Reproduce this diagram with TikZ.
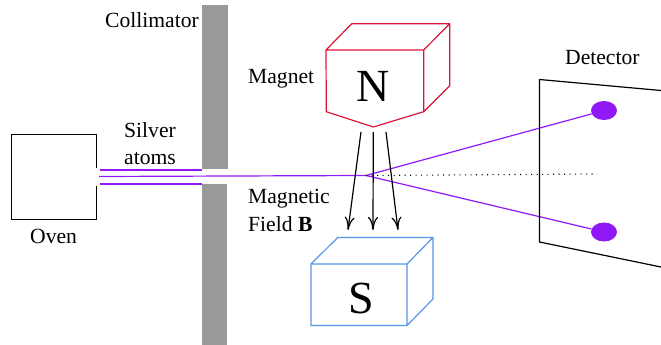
\documentclass[tikz,border=0pt]{standalone}
\usepackage{fontspec}
\setmainfont{Liberation Serif}
\definecolor{beam}{RGB}{145,25,245}
\definecolor{magred}{RGB}{220,20,60}
\definecolor{magblue}{RGB}{85,150,230}
\tikzset{
  lbl/.style={anchor=base west,inner sep=0pt,font=\fontsize{21.6}{24}\selectfont},
  pole/.style={inner sep=0pt,font=\fontsize{46}{48}\selectfont},
  beamline/.style={draw=beam,line width=1.2pt},
  fieldarrow/.style={draw=black,line width=1.2pt,-{To[length=13pt,width=10pt]}},
  spot/.style={ellipse,fill=beam,minimum width=26pt,minimum height=19pt,inner sep=0pt},
  wall/.style={fill=black!40,draw=none},
  frame/.style={draw=black,line width=1.2pt}
}
\usetikzlibrary{arrows.meta,shapes.geometric}
\begin{document}
\begin{tikzpicture}[x=1pt,y=-1pt]
\useasboundingbox (0,0) rectangle (661,345);
% collimator
\fill[wall] (202,5) rectangle (228,169);
\fill[wall] (202,183.5) rectangle (227,345);
% oven
\coordinate (ovenA) at (96.5,168);
\coordinate (ovenB) at (11.5,134.5);
\coordinate (ovenC) at (96.5,185.7);
\draw[frame] (ovenA) -- (96.5,134.5) -- (ovenB) -- (11.5,219.5) -- (96.5,219.5) -- (ovenC);
% beams
\coordinate (b1s) at (100,170); \coordinate (b1e) at (202,170);
\coordinate (b2s) at (99,176.5);
\coordinate (b3s) at (100,184); \coordinate (b3e) at (202,184);
\coordinate (fan) at (366,175.5);
\node[spot] (up) at (604,110.5) {};
\node[spot] (down) at (604,232) {};
\draw[beamline] (b1s) -- (b1e);
\draw[beamline] (b3s) -- (b3e);
\draw[beamline] (b2s) -- (fan);
\draw[beamline] (fan) -- (up);
\draw[beamline] (fan) -- (down);
\coordinate (dotend) at (597,174);
\draw[line width=1.1pt,dash pattern=on 1.1pt off 4.4pt] (fan) -- (dotend);
% detector
\coordinate (d1) at (661,90.5); \coordinate (d2) at (539.5,79.5);
\coordinate (d3) at (539.5,242); \coordinate (d4) at (661,267);
\draw[frame] (d1) -- (d2) -- (d3) -- (d4);
% north magnet
\draw[magred,line width=1.2pt,line join=round]
  (326,50) -- (423.7,50) -- (423.7,111.7) -- (373.3,127) -- (326.3,111.7) -- cycle
  (326,50) -- (351.7,23.7) -- (449.7,23.7) -- (423.7,50)
  (449.7,23.7) -- (449.7,85.7) -- (423.7,111.7);
\node[pole] (N) at (373,86) {N};
% south magnet
\draw[magblue,line width=1.2pt,line join=round]
  (311,264) rectangle (407,325.5)
  (311,264) -- (337.7,237.5) -- (433,237.5) -- (407,264)
  (433,237.5) -- (433,299) -- (407,325.5);
\node[pole] (S) at (361,298) {S};
% field arrows
\coordinate (a1) at (361,132); \coordinate (a1e) at (348,230);
\coordinate (a2) at (373.3,132); \coordinate (a2e) at (373,230);
\coordinate (a3) at (386,132); \coordinate (a3e) at (398,230);
\draw[fieldarrow] (a1) -- (a1e);
\draw[fieldarrow] (a2) -- (a2e);
\draw[fieldarrow] (a3) -- (a3e);
% labels
\node[lbl] (collimator) at (105,28) {Collimator};
\node[lbl] (magnet) at (248,84) {Magnet};
\node[lbl] (silver) at (124,137) {Silver};
\node[lbl] (atoms) at (124,164) {atoms};
\node[lbl] (magnetic) at (248,203) {Magnetic};
\node[lbl] (field) at (248,231) {Field \textbf{B}};
\node[lbl] (oven) at (30,243) {Oven};
\node[lbl] (detector) at (565,64) {Detector};
\end{tikzpicture}
\end{document}
